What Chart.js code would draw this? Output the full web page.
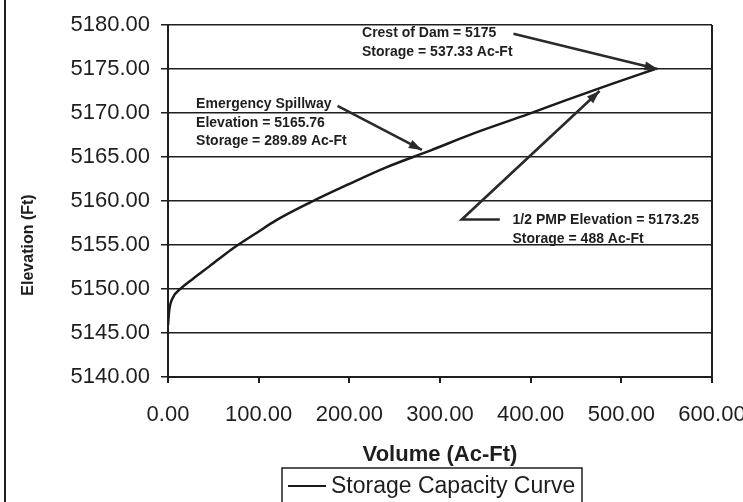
<!DOCTYPE html>
<html>
<head>
<meta charset="utf-8">
<script src="https://cdn.jsdelivr.net/npm/chart.js@4.4.1/dist/chart.umd.min.js"></script>
<style>
  html, body { margin: 0; padding: 0; background: #fff; }
  #wrap { width: 743px; height: 502px; position: relative; }
</style>
</head>
<body>
<div id="wrap"><canvas id="chart" width="743" height="502"></canvas></div>
<script>
// storage capacity curve
const volumes    = [0, 1.4, 5.8, 13, 28, 46, 70, 98, 120, 156, 198, 240, 289.89, 335, 398, 440, 488, 537.33];
const elevations = [5145.9, 5147.6, 5149.1, 5149.95, 5151.2, 5152.6, 5154.5, 5156.4, 5157.85, 5159.8, 5161.85, 5163.8, 5165.76, 5167.6, 5169.9, 5171.5, 5173.25, 5175];

const xTicks = [0, 100, 200, 300, 400, 500, 600];
const yTicks = [5140, 5145, 5150, 5155, 5160, 5165, 5170, 5175, 5180];

const crestNote    = ['Crest of Dam = 5175', 'Storage = 537.33 Ac-Ft'];
const spillwayNote = ['Emergency Spillway', 'Elevation = 5165.76', 'Storage = 289.89 Ac-Ft'];
const pmpNote      = ['1/2 PMP Elevation = 5173.25', 'Storage = 488 Ac-Ft'];
const yTitle = 'Elevation (Ft)';

const FONT = '"Liberation Sans", Arial, sans-serif';
const INK = '#1e1e1e';

const drawArrow = (ctx, pts) => {
  ctx.beginPath();
  ctx.moveTo(pts[0][0], pts[0][1]);
  for (let i = 1; i < pts.length; i++) ctx.lineTo(pts[i][0], pts[i][1]);
  ctx.stroke();
  const [ax, ay] = pts[pts.length - 2];
  const [bx, by] = pts[pts.length - 1];
  const ang = Math.atan2(by - ay, bx - ax);
  const len = 13, half = 4.5;
  ctx.beginPath();
  ctx.moveTo(bx, by);
  ctx.lineTo(bx - len * Math.cos(ang) + half * Math.sin(ang), by - len * Math.sin(ang) - half * Math.cos(ang));
  ctx.lineTo(bx - len * Math.cos(ang) - half * Math.sin(ang), by - len * Math.sin(ang) + half * Math.cos(ang));
  ctx.closePath();
  ctx.fill();
};

const notesPlugin = {
  id: 'notes',
  beforeDraw(chart) {
    const ctx = chart.ctx;
    ctx.save();
    ctx.fillStyle = '#fff';
    ctx.fillRect(0, 0, chart.width, chart.height);
    ctx.strokeStyle = INK;
    ctx.lineWidth = 2;
    ctx.beginPath();
    ctx.moveTo(5, 0);
    ctx.lineTo(5, chart.height);
    ctx.stroke();
    // y axis title sits low, like the scan
    ctx.translate(29, 245);
    ctx.rotate(-Math.PI / 2);
    ctx.font = 'bold 16px ' + FONT;
    ctx.fillStyle = INK;
    ctx.textAlign = 'center';
    ctx.textBaseline = 'middle';
    ctx.fillText(yTitle, 0, 0);
    ctx.restore();
  },
  afterDatasetsDraw(chart) {
    const { ctx, scales: { x, y } } = chart;
    const p = (v, e) => [x.getPixelForValue(v), y.getPixelForValue(e)];
    ctx.save();
    ctx.font = 'bold 14px ' + FONT;
    ctx.fillStyle = INK;
    ctx.textBaseline = 'middle';
    const write = (lines, v, e) => {
      const [tx, ty] = p(v, e);
      lines.forEach((t, i) => ctx.fillText(t, tx, ty + i * 18.5));
    };
    write(crestNote, 214, 5179.03);
    write(spillwayNote, 31, 5170.97);
    write(pmpNote, 380, 5157.8);

    ctx.strokeStyle = '#2a2a2a';
    ctx.fillStyle = '#2a2a2a';
    ctx.lineWidth = 2.6;
    drawArrow(ctx, [p(381, 5179.0), p(540, 5175)]);
    drawArrow(ctx, [p(187, 5170.8), p(280, 5165.8)]);
    drawArrow(ctx, [p(366, 5157.9), p(324, 5157.9), p(476, 5172.5)]);

    // legend box
    const ds = chart.data.datasets[0];
    ctx.lineWidth = 1.5;
    ctx.strokeStyle = INK;
    ctx.strokeRect(282, 468, 300, 44);
    ctx.strokeStyle = ds.borderColor;
    ctx.lineWidth = 2;
    ctx.beginPath();
    ctx.moveTo(288, 486);
    ctx.lineTo(326, 486);
    ctx.stroke();
    ctx.fillStyle = INK;
    ctx.font = '23px ' + FONT;
    ctx.fillText(ds.label, 331, 487);
    ctx.restore();
  }
};

new Chart(document.getElementById('chart'), {
  type: 'line',
  data: {
    datasets: [{
      label: 'Storage Capacity Curve',
      data: volumes.map((v, i) => ({ x: v, y: elevations[i] })),
      borderColor: '#1a1a1a',
      borderWidth: 2.5,
      pointRadius: 0,
      fill: false,
      cubicInterpolationMode: 'monotone'
    }]
  },
  options: {
    responsive: false,
    animation: false,
    layout: { padding: { left: 0, right: 31, top: 25, bottom: 0 } },
    plugins: { legend: { display: false }, tooltip: { enabled: false } },
    scales: {
      x: {
        type: 'linear',
        min: 0,
        max: 600,
        afterBuildTicks: (s) => { s.ticks = xTicks.map(v => ({ value: v })); },
        ticks: {
          callback: (v) => Number(v).toFixed(2),
          color: INK,
          font: { family: FONT, size: 22 },
          padding: 19,
          maxRotation: 0
        },
        grid: {
          color: (c) => (c.tick && c.tick.value === 600 ? INK : 'rgba(0,0,0,0)'),
          tickColor: INK,
          tickLength: 6,
          lineWidth: 2
        },
        border: { color: INK, width: 2 },
        title: {
          display: true,
          text: 'Volume (Ac-Ft)',
          color: INK,
          font: { family: FONT, size: 22, weight: 'bold' },
          padding: { top: 0, bottom: 34 }
        },
        afterFit: (s) => { s.height = 125; s.paddingLeft = 0; s.paddingRight = 0; }
      },
      y: {
        min: 5140,
        max: 5180,
        afterBuildTicks: (s) => { s.ticks = yTicks.map(v => ({ value: v })); },
        ticks: {
          callback: (v) => Number(v).toFixed(2),
          color: INK,
          font: { family: FONT, size: 22 },
          padding: 11
        },
        grid: { color: INK, lineWidth: 1.5, tickLength: 7 },
        border: { color: INK, width: 2 },
        title: { display: false },
        afterFit: (s) => { s.width = 168; s.paddingTop = 0; s.paddingBottom = 0; }
      }
    }
  },
  plugins: [notesPlugin]
});
</script>
</body>
</html>
